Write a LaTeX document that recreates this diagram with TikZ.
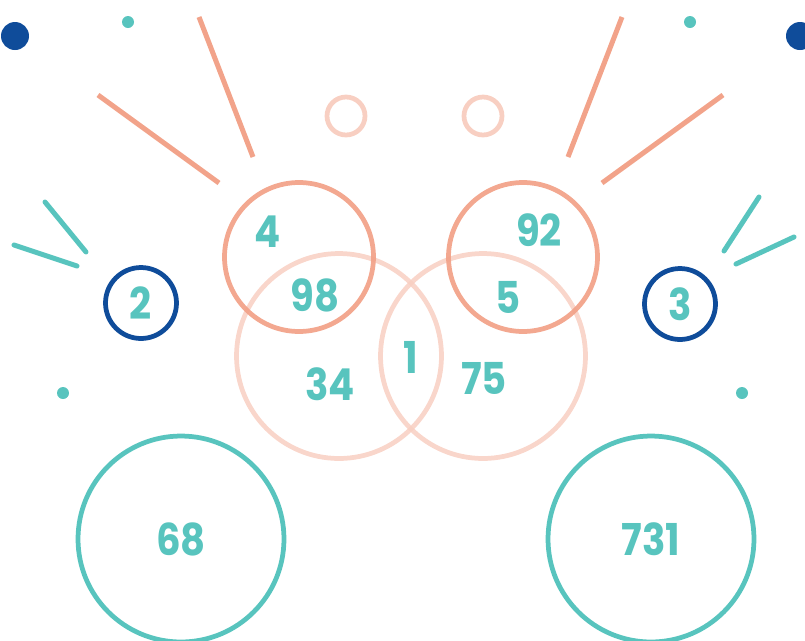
\documentclass[tikz,border=0pt]{standalone}
\usepackage{fontspec}
\setmainfont{Poppins}[FakeStretch=0.88]
\usetikzlibrary{positioning}
\definecolor{navy}{HTML}{0F4C9A}
\definecolor{teal}{HTML}{58C4BE}
\definecolor{salmon}{HTML}{F2A38A}
\definecolor{blush}{HTML}{F8CFC2}
\tikzset{
  num/.style = {text=teal, font=\fontsize{25}{25}\selectfont\bfseries, inner sep=0pt},
  ring/.style = {circle, draw, line width=0.095cm, inner sep=0pt},
  setring/.style = {ring, draw=salmon, draw opacity=0.95, minimum size=2.98cm},
  bigring/.style = {ring, draw=blush, draw opacity=0.85, minimum size=4.1cm},
  tinyring/.style = {ring, draw=blush, minimum size=0.76cm},
  tagring/.style = {ring, draw=navy, minimum size=1.42cm},
  poolring/.style = {ring, draw=teal, minimum size=4.12cm},
  ray/.style = {salmon, line width=0.1cm},
  spark/.style = {teal, line width=0.1cm, line cap=round}
}
\begin{document}
\begin{tikzpicture}[x=0.02cm, y=-0.02cm]
            \useasboundingbox (0,0) rectangle (805,640);
            % dots
            \fill[navy] (15,36) circle (14);
            \fill[navy] (800,36) circle (14);
            \fill[teal] (128,22) circle (6);
            \fill[teal] (690,22) circle (6);
            \fill[teal] (63,393) circle (6);
            \fill[teal] (742,393) circle (6);
            % rays
            \draw[ray] (98,95) -- (219,183);
            \draw[ray] (199,17) -- (253,157);
            \draw[ray] (622,17) -- (568,157);
            \draw[ray] (723,95) -- (602,183);
            \draw[spark] (45,202) -- (86,252);
            \draw[spark] (14,245) -- (77,266);
            \draw[spark] (759,197) -- (724,251);
            \draw[spark] (794,237) -- (736,264);
            % rings
            \node[tinyring] (hl) at (346,116) {};
            \node[tinyring] (hr) at (483,116) {};
            \node[bigring] (bl) at (339,356) {};
            \node[bigring] (br) at (483,356) {};
            \node[setring] (sl) at (299,257) {};
            \node[setring] (sr) at (523,257) {};
            \node[tagring, num] (tl) at (141,303) {2};
            \node[tagring, num] (tr) at (680,304) {3};
            \node[poolring, num] (pl) at (181,539) {68};
            \node[poolring, num] (pr) at (651,539) {731};
            % counts
            \node[num] (n4) at (268,232) {4};
            \node[num] (n98) at (315,295) {98};
            \node[num] (n92) at (539,230) {92};
            \node[num] (n5) at (508,297) {5};
            \node[num] (n1) at (411,357) {1};
            \node[num] (n34) at (330,384) {34};
            \node[num] (n75) at (484,378) {75};
        \end{tikzpicture}
\end{document}
